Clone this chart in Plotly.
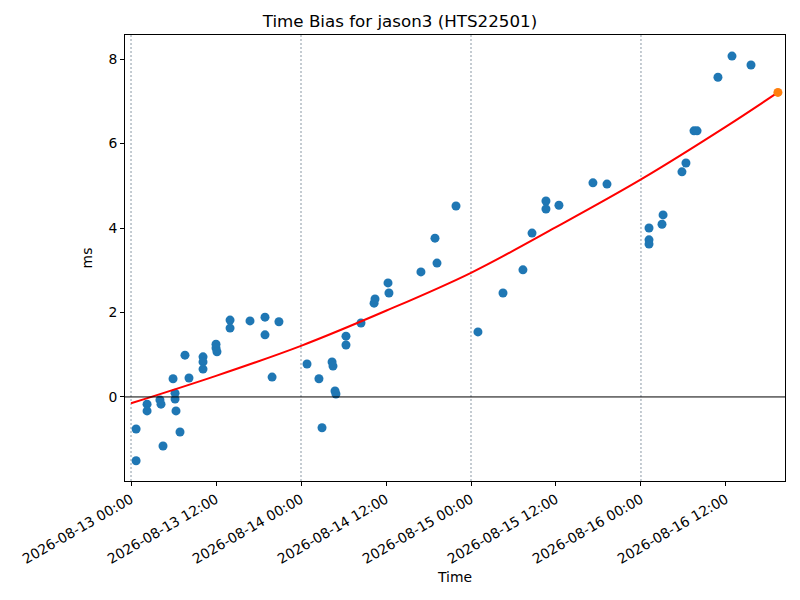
import plotly.graph_objects as go

times = [
    "2026-08-13 00:43", "2026-08-13 00:43", "2026-08-13 02:16", "2026-08-13 02:16",
    "2026-08-13 04:05", "2026-08-13 04:14", "2026-08-13 04:31", "2026-08-13 05:56",
    "2026-08-13 06:13", "2026-08-13 06:13", "2026-08-13 06:21", "2026-08-13 06:55",
    "2026-08-13 07:37", "2026-08-13 08:11", "2026-08-13 10:10", "2026-08-13 10:10",
    "2026-08-13 10:10", "2026-08-13 12:00", "2026-08-13 12:00", "2026-08-13 12:08",
    "2026-08-13 13:59", "2026-08-13 13:59", "2026-08-13 16:48", "2026-08-13 18:55",
    "2026-08-13 18:55", "2026-08-13 19:55", "2026-08-13 20:53", "2026-08-14 00:51",
    "2026-08-14 02:32", "2026-08-14 02:58", "2026-08-14 04:23", "2026-08-14 04:31",
    "2026-08-14 04:48", "2026-08-14 04:56", "2026-08-14 06:21", "2026-08-14 06:21",
    "2026-08-14 08:28", "2026-08-14 10:19", "2026-08-14 10:27", "2026-08-14 12:17",
    "2026-08-14 12:25", "2026-08-14 16:56", "2026-08-14 18:55", "2026-08-14 19:12",
    "2026-08-14 21:53", "2026-08-15 00:59", "2026-08-15 04:31", "2026-08-15 07:20",
    "2026-08-15 08:37", "2026-08-15 10:35", "2026-08-15 10:35", "2026-08-15 12:25",
    "2026-08-15 17:13", "2026-08-15 19:12", "2026-08-16 01:08", "2026-08-16 01:08",
    "2026-08-16 01:08", "2026-08-16 02:58", "2026-08-16 03:07", "2026-08-16 05:47",
    "2026-08-16 06:21", "2026-08-16 07:29", "2026-08-16 07:55", "2026-08-16 10:52",
    "2026-08-16 12:51", "2026-08-16 15:32",
]
bias_ms = [
    -0.76, -1.51, -0.17, -0.33,
    -0.07, -0.17, -1.16, 0.43,
    0.09, -0.05, -0.33, -0.83,
    0.99, 0.45, 0.95, 0.83,
    0.66, 1.25, 1.16, 1.07,
    1.82, 1.63, 1.80, 1.89,
    1.47, 0.47, 1.78, 0.78,
    0.43, -0.73, 0.83, 0.73,
    0.14, 0.07, 1.44, 1.23,
    1.75, 2.22, 2.32, 2.70,
    2.46, 2.96, 3.76, 3.17,
    4.52, 1.54, 2.46, 3.01,
    3.88, 4.64, 4.45, 4.54,
    5.07, 5.04, 4.00, 3.72,
    3.62, 4.09, 4.31, 5.33,
    5.54, 6.30, 6.30, 7.57,
    8.07, 7.86,
]

# fitted trend
fit_times = [
    "2026-08-13 00:00", "2026-08-13 12:00", "2026-08-14 00:00", "2026-08-14 12:00",
    "2026-08-15 00:00", "2026-08-15 12:00", "2026-08-16 00:00", "2026-08-16 12:00",
    "2026-08-16 19:20",
]
fit_ms = [-0.15, 0.50, 1.21, 2.04, 2.94, 4.02, 5.15, 6.40, 7.21]

# predicted point at the end of the fit
pred_time = ["2026-08-16 19:20"]
pred_ms = [7.21]

day_lines = ["2026-08-13", "2026-08-14", "2026-08-15", "2026-08-16"]
tick_vals = ["2026-08-13 00:00", "2026-08-13 12:00", "2026-08-14 00:00", "2026-08-14 12:00",
             "2026-08-15 00:00", "2026-08-15 12:00", "2026-08-16 00:00", "2026-08-16 12:00"]

fig = go.Figure()

for d in day_lines:
    fig.add_vline(x=d, line=dict(color="#5a6f80", width=0.7, dash="2px,2px"), layer="below")
fig.add_hline(y=0, line=dict(color="black", width=1))

fig.add_trace(go.Scatter(
    x=times, y=bias_ms, mode="markers",
    marker=dict(color="#1f77b4", size=9), cliponaxis=True
))
fig.add_trace(go.Scatter(
    x=fit_times, y=fit_ms, mode="lines",
    line=dict(color="red", width=2, shape="spline")
))
fig.add_trace(go.Scatter(
    x=pred_time, y=pred_ms, mode="markers",
    marker=dict(color="#ff7f0e", size=9), cliponaxis=False
))

fig.update_layout(
    width=800, height=600,
    margin=dict(l=125, r=15, t=35, b=119),
    paper_bgcolor="white", plot_bgcolor="white",
    showlegend=False,
    font=dict(family="DejaVu Sans", size=13.9, color="black"),
    title=dict(text="Time Bias for jason3 (HTS22501)", x=0.5, xanchor="center",
               y=0.965, yanchor="middle", font=dict(size=16.7)),
    xaxis=dict(
        title=dict(text="Time", standoff=6, font=dict(size=13.9)),
        type="date", automargin=False,
        range=["2026-08-12 23:09", "2026-08-16 20:20"],
        tickvals=tick_vals, tickformat="%Y-%m-%d %H:%M", tickangle=-30,
        tickfont=dict(size=13.9),
        showgrid=False, zeroline=False,
        showline=True, linecolor="black", linewidth=1, mirror=True,
        ticks="outside", ticklen=4, tickcolor="black",
    ),
    yaxis=dict(
        title=dict(text="ms", standoff=12, font=dict(size=13.9)),
        automargin=False,
        range=[-1.99, 8.57],
        tickvals=[0, 2, 4, 6, 8],
        tickfont=dict(size=13.9),
        showgrid=False, zeroline=False,
        showline=True, linecolor="black", linewidth=1, mirror=True,
        ticks="outside", ticklen=4, tickcolor="black",
    ),
)

# drop the browser's default body margin so the figure sits at the page corner
fig.write_html("out.html", config={"displayModeBar": False},
               post_script="document.body.style.margin='0';")
